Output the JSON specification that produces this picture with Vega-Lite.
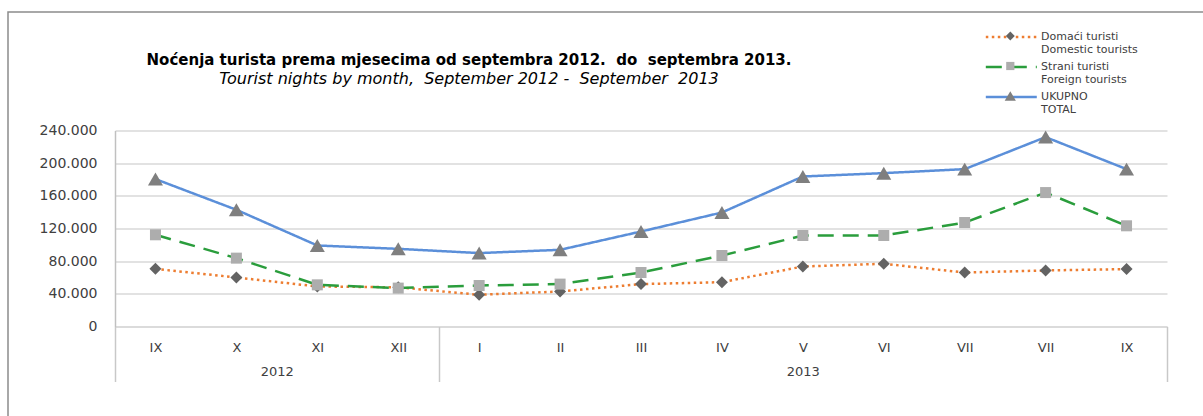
{
  "$schema": "https://vega.github.io/schema/vega-lite/v6.json",
  "autosize": "none",
  "width": 1052,
  "height": 196,
  "padding": {"left": 115, "top": 130.5, "right": 36, "bottom": 89.5},
  "background": "white",
  "config": {"view": {"stroke": null}},
  "title": {
    "text": "Noćenja turista prema mjesecima od septembra 2012.\u00a0 do\u00a0 septembra 2013.",
    "subtitle": "Tourist nights by month,\u00a0 September 2012 -\u00a0 September\u00a0 2013",
    "anchor": "middle",
    "frame": "group",
    "dx": -172,
    "offset": -75,
    "font": "DejaVu Sans",
    "fontSize": 15,
    "fontWeight": "bold",
    "color": "#000000",
    "subtitleFont": "DejaVu Sans",
    "subtitleFontSize": 16,
    "subtitleFontStyle": "italic",
    "subtitleColor": "#000000",
    "subtitlePadding": 3
  },
  "data": {
    "values": [
      {"m": 1, "month": "IX", "year": 2012, "series": "Domaći turisti / Domestic tourists", "marker": "Domaći turisti / Domestic tourists", "value": 70600},
      {"m": 2, "month": "X", "year": 2012, "series": "Domaći turisti / Domestic tourists", "marker": "Domaći turisti / Domestic tourists", "value": 60000},
      {"m": 3, "month": "XI", "year": 2012, "series": "Domaći turisti / Domestic tourists", "marker": "Domaći turisti / Domestic tourists", "value": 49000},
      {"m": 4, "month": "XII", "year": 2012, "series": "Domaći turisti / Domestic tourists", "marker": "Domaći turisti / Domestic tourists", "value": 48000},
      {"m": 5, "month": "I", "year": 2013, "series": "Domaći turisti / Domestic tourists", "marker": "Domaći turisti / Domestic tourists", "value": 38800},
      {"m": 6, "month": "II", "year": 2013, "series": "Domaći turisti / Domestic tourists", "marker": "Domaći turisti / Domestic tourists", "value": 42900},
      {"m": 7, "month": "III", "year": 2013, "series": "Domaći turisti / Domestic tourists", "marker": "Domaći turisti / Domestic tourists", "value": 51900},
      {"m": 8, "month": "IV", "year": 2013, "series": "Domaći turisti / Domestic tourists", "marker": "Domaći turisti / Domestic tourists", "value": 54300},
      {"m": 9, "month": "V", "year": 2013, "series": "Domaći turisti / Domestic tourists", "marker": "Domaći turisti / Domestic tourists", "value": 73500},
      {"m": 10, "month": "VI", "year": 2013, "series": "Domaći turisti / Domestic tourists", "marker": "Domaći turisti / Domestic tourists", "value": 76800},
      {"m": 11, "month": "VII", "year": 2013, "series": "Domaći turisti / Domestic tourists", "marker": "Domaći turisti / Domestic tourists", "value": 66100},
      {"m": 12, "month": "VII", "year": 2013, "series": "Domaći turisti / Domestic tourists", "marker": "Domaći turisti / Domestic tourists", "value": 68600},
      {"m": 13, "month": "IX", "year": 2013, "series": "Domaći turisti / Domestic tourists", "marker": "Domaći turisti / Domestic tourists", "value": 70300},
      {"m": 1, "month": "IX", "year": 2012, "series": "Strani turisti / Foreign tourists", "marker": "Strani turisti / Foreign tourists", "value": 112300},
      {"m": 2, "month": "X", "year": 2012, "series": "Strani turisti / Foreign tourists", "marker": "Strani turisti / Foreign tourists", "value": 83700},
      {"m": 3, "month": "XI", "year": 2012, "series": "Strani turisti / Foreign tourists", "marker": "Strani turisti / Foreign tourists", "value": 51000},
      {"m": 4, "month": "XII", "year": 2012, "series": "Strani turisti / Foreign tourists", "marker": "Strani turisti / Foreign tourists", "value": 47000},
      {"m": 5, "month": "I", "year": 2013, "series": "Strani turisti / Foreign tourists", "marker": "Strani turisti / Foreign tourists", "value": 50200},
      {"m": 6, "month": "II", "year": 2013, "series": "Strani turisti / Foreign tourists", "marker": "Strani turisti / Foreign tourists", "value": 51900},
      {"m": 7, "month": "III", "year": 2013, "series": "Strani turisti / Foreign tourists", "marker": "Strani turisti / Foreign tourists", "value": 66100},
      {"m": 8, "month": "IV", "year": 2013, "series": "Strani turisti / Foreign tourists", "marker": "Strani turisti / Foreign tourists", "value": 86900},
      {"m": 9, "month": "V", "year": 2013, "series": "Strani turisti / Foreign tourists", "marker": "Strani turisti / Foreign tourists", "value": 111400},
      {"m": 10, "month": "VI", "year": 2013, "series": "Strani turisti / Foreign tourists", "marker": "Strani turisti / Foreign tourists", "value": 111400},
      {"m": 11, "month": "VII", "year": 2013, "series": "Strani turisti / Foreign tourists", "marker": "Strani turisti / Foreign tourists", "value": 127300},
      {"m": 12, "month": "VII", "year": 2013, "series": "Strani turisti / Foreign tourists", "marker": "Strani turisti / Foreign tourists", "value": 164000},
      {"m": 13, "month": "IX", "year": 2013, "series": "Strani turisti / Foreign tourists", "marker": "Strani turisti / Foreign tourists", "value": 123300},
      {"m": 1, "month": "IX", "year": 2012, "series": "UKUPNO / TOTAL", "marker": "UKUPNO / TOTAL", "value": 180500},
      {"m": 2, "month": "X", "year": 2012, "series": "UKUPNO / TOTAL", "marker": "UKUPNO / TOTAL", "value": 142900},
      {"m": 3, "month": "XI", "year": 2012, "series": "UKUPNO / TOTAL", "marker": "UKUPNO / TOTAL", "value": 99200},
      {"m": 4, "month": "XII", "year": 2012, "series": "UKUPNO / TOTAL", "marker": "UKUPNO / TOTAL", "value": 95100},
      {"m": 5, "month": "I", "year": 2013, "series": "UKUPNO / TOTAL", "marker": "UKUPNO / TOTAL", "value": 89900},
      {"m": 6, "month": "II", "year": 2013, "series": "UKUPNO / TOTAL", "marker": "UKUPNO / TOTAL", "value": 93900},
      {"m": 7, "month": "III", "year": 2013, "series": "UKUPNO / TOTAL", "marker": "UKUPNO / TOTAL", "value": 116300},
      {"m": 8, "month": "IV", "year": 2013, "series": "UKUPNO / TOTAL", "marker": "UKUPNO / TOTAL", "value": 139600},
      {"m": 9, "month": "V", "year": 2013, "series": "UKUPNO / TOTAL", "marker": "UKUPNO / TOTAL", "value": 183700},
      {"m": 10, "month": "VI", "year": 2013, "series": "UKUPNO / TOTAL", "marker": "UKUPNO / TOTAL", "value": 187800},
      {"m": 11, "month": "VII", "year": 2013, "series": "UKUPNO / TOTAL", "marker": "UKUPNO / TOTAL", "value": 192700},
      {"m": 12, "month": "VII", "year": 2013, "series": "UKUPNO / TOTAL", "marker": "UKUPNO / TOTAL", "value": 231900},
      {"m": 13, "month": "IX", "year": 2013, "series": "UKUPNO / TOTAL", "marker": "UKUPNO / TOTAL", "value": 192700}
    ]
  },
  "layer": [
    {
      "mark": {"type": "line", "strokeWidth": 2.5},
      "encoding": {
        "x": {
          "field": "m", "type": "quantitative",
          "scale": {"domain": [0.5, 13.5], "nice": false, "zero": false},
          "axis": {
            "orient": "bottom", "title": null,
            "values": [1, 2, 3, 4, 5, 6, 7, 8, 9, 10, 11, 12, 13],
            "labelExpr": "['IX','X','XI','XII','I','II','III','IV','V','VI','VII','VII','IX'][datum.value-1]",
            "ticks": false, "tickSize": 0, "grid": false,
            "domain": true, "domainColor": "#D9D9D9", "domainWidth": 1.5,
            "labelPadding": 15, "labelFont": "DejaVu Sans", "labelFontSize": 13,
            "labelColor": "#404040", "labelFlush": false, "labelOverlap": false
          }
        },
        "y": {
          "field": "value", "type": "quantitative",
          "scale": {"domain": [0, 240000], "nice": false},
          "axis": {
            "title": null,
            "values": [0, 40000, 80000, 120000, 160000, 200000, 240000],
            "labelExpr": "replace(format(datum.value, ','), ',', '.')",
            "grid": true, "gridColor": "#D9D9D9", "gridWidth": 1.5,
            "ticks": false, "tickSize": 0, "labelOverlap": false, "labelFlush": false,
            "domain": true, "domainColor": "#C0C0C0", "domainWidth": 1.5,
            "labelPadding": 18, "labelFont": "DejaVu Sans", "labelFontSize": 14,
            "labelColor": "#404040"
          }
        },
        "color": {
          "field": "series", "type": "nominal",
          "scale": {
            "domain": ["Domaći turisti / Domestic tourists", "Strani turisti / Foreign tourists", "UKUPNO / TOTAL"],
            "range": ["#ED7D31", "#2A9D3C", "#5B8FD9"]
          },
          "legend": {
            "orient": "none", "legendX": 884.8, "legendY": -105, "title": null, "padding": 0,
            "symbolType": "M-2.5,0H2.5", "symbolSize": 416, "symbolStrokeWidth": 2.5,
            "labelExpr": "split(datum.label, ' / ')",
            "labelFont": "DejaVu Sans", "labelFontSize": 11, "labelColor": "#404040",
            "labelBaseline": "middle", "labelOffset": 18.3, "rowPadding": -1.5, "labelLimit": 300
          }
        },
        "strokeDash": {
          "field": "series", "type": "nominal",
          "scale": {
            "domain": ["Domaći turisti / Domestic tourists", "Strani turisti / Foreign tourists", "UKUPNO / TOTAL"],
            "range": [[2.5, 3.5], [16, 9], [1, 0]]
          },
          "legend": {
            "orient": "none", "legendX": 884.8, "legendY": -105, "title": null, "padding": 0,
            "symbolType": "M-2.5,0H2.5", "symbolSize": 416, "symbolStrokeWidth": 2.5,
            "labelExpr": "split(datum.label, ' / ')",
            "labelFont": "DejaVu Sans", "labelFontSize": 11, "labelColor": "#404040",
            "labelBaseline": "middle", "labelOffset": 18.3, "rowPadding": -1.5, "labelLimit": 300
          }
        }
      }
    },
    {
      "mark": {"type": "point", "filled": true, "opacity": 1, "strokeWidth": 0, "size": 900},
      "encoding": {
        "x": {
          "field": "m", "type": "quantitative",
          "axis": {
            "orient": "bottom", "title": null, "values": [2.5, 9],
            "labelExpr": "datum.value < 5 ? '2012' : '2013'",
            "ticks": false, "tickSize": 0, "grid": false, "domain": false,
            "labelPadding": 39, "labelFont": "DejaVu Sans", "labelFontSize": 13,
            "labelColor": "#404040", "labelFlush": false, "labelOverlap": false
          }
        },
        "y": {
          "field": "value", "type": "quantitative",
          "axis": {
            "title": null,
            "values": [0, 40000, 80000, 120000, 160000, 200000, 240000],
            "labelExpr": "replace(format(datum.value, ','), ',', '.')",
            "grid": true, "gridColor": "#D9D9D9", "gridWidth": 1.5,
            "ticks": false, "tickSize": 0, "labelOverlap": false, "labelFlush": false,
            "domain": true, "domainColor": "#C0C0C0", "domainWidth": 1.5,
            "labelPadding": 18, "labelFont": "DejaVu Sans", "labelFontSize": 14,
            "labelColor": "#404040"
          }
        },
        "shape": {
          "field": "marker", "type": "nominal",
          "scale": {"range": ["M0,-0.4L0.4,0L0,0.4L-0.4,0Z", "M-0.367,-0.367H0.367V0.367H-0.367Z", "M0,-0.433L0.5,0.433L-0.5,0.433Z"]},
          "legend": {
            "orient": "none", "legendX": 883.8, "legendY": -106, "title": null, "padding": 0,
            "symbolSize": 500, "symbolStrokeWidth": 0,
            "labelExpr": "split(datum.label, ' / ')",
            "labelFont": "DejaVu Sans", "labelFontSize": 11, "labelOpacity": 0,
            "labelBaseline": "middle", "labelOffset": 18.3, "rowPadding": -1.5, "labelLimit": 300
          }
        },
        "fill": {
          "field": "marker", "type": "nominal",
          "scale": {"range": ["#636363", "#ADADAD", "#7F7F7F"]},
          "legend": {
            "orient": "none", "legendX": 883.8, "legendY": -106, "title": null, "padding": 0,
            "symbolSize": 500, "symbolStrokeWidth": 0,
            "labelExpr": "split(datum.label, ' / ')",
            "labelFont": "DejaVu Sans", "labelFontSize": 11, "labelOpacity": 0,
            "labelBaseline": "middle", "labelOffset": 18.3, "rowPadding": -1.5, "labelLimit": 300
          }
        }
      }
    },
    {
      "mark": {"type": "point", "opacity": 0},
      "encoding": {
        "x": {
          "field": "m", "type": "quantitative",
          "axis": {
            "orient": "bottom", "title": null, "values": [0.5, 4.5, 13.5],
            "labels": false, "ticks": true, "tickSize": 55, "tickColor": "#C8C8C8", "tickWidth": 1.5,
            "grid": false, "domain": false
          }
        },
        "y": {
          "field": "value", "type": "quantitative",
          "axis": {
            "title": null,
            "values": [0, 40000, 80000, 120000, 160000, 200000, 240000],
            "labelExpr": "replace(format(datum.value, ','), ',', '.')",
            "grid": true, "gridColor": "#D9D9D9", "gridWidth": 1.5,
            "ticks": false, "tickSize": 0, "labelOverlap": false, "labelFlush": false,
            "domain": true, "domainColor": "#C0C0C0", "domainWidth": 1.5,
            "labelPadding": 18, "labelFont": "DejaVu Sans", "labelFontSize": 14,
            "labelColor": "#404040"
          }
        },
        "stroke": {
          "field": "value", "type": "quantitative",
          "scale": {"range": ["rgba(0,0,0,0)", "rgba(0,0,0,0)"]},
          "legend": {
            "type": "gradient", "orient": "none", "legendX": -107, "legendY": -118.5,
            "direction": "horizontal", "title": null, "padding": 0,
            "gradientLength": 1400, "gradientThickness": 600,
            "gradientStrokeColor": "#8C8C8C", "gradientStrokeWidth": 1.5,
            "labelExpr": "''", "labelOpacity": 0
          }
        }
      }
    }
  ],
  "resolve": {"axis": {"x": "independent"}}
}
